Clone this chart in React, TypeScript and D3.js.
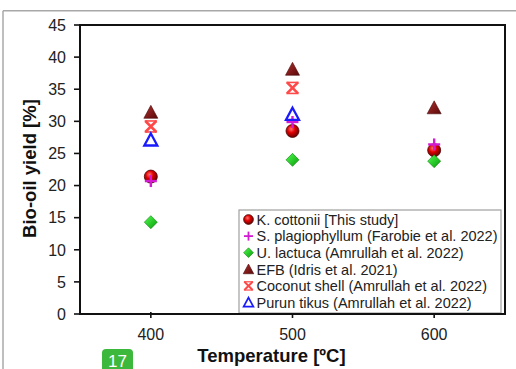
import React from "react";
import * as d3 from "d3";

const temperatures = [400, 500, 600];
const xTicks = [400, 500, 600];
const yTicks = [0, 5, 10, 15, 20, 25, 30, 35, 40, 45];

const seriesNames = [
  "K. cottonii [This study]",
  "S. plagiophyllum (Farobie et al. 2022)",
  "U. lactuca (Amrullah et al. 2022)",
  "EFB (Idris et al. 2021)",
  "Coconut shell (Amrullah et al. 2022)",
  "Purun tikus (Amrullah et al. 2022)",
];
const kCottonii = [21.4, 28.5, 25.5];
const sPlagiophyllum = [20.7, 29.9, 26.4];
const uLactuca = [14.3, 24.0, 23.8];
const efb = [31.4, 38.1, 32.1];
const coconutShell = [29.2, 35.2, null];
const purunTikus = [27.1, 31.1, null];

const seriesValues = [kCottonii, sPlagiophyllum, uLactuca, efb, coconutShell, purunTikus];
const seriesMarkers = ["sphere", "plus", "diamond", "triangle", "xbar", "opentri"];

const W = 516;
const H = 369;
const plot = { left: 80, right: 505, top: 25, bottom: 314 };

const x = d3.scaleLinear().domain([350, 650]).range([plot.left, plot.right]);
const y = d3.scaleLinear().domain([0, 45]).range([plot.bottom, plot.top]);

const FONT = "'Liberation Sans', Arial, Helvetica, sans-serif";

function Marker({ kind, cx, cy, s = 1 }: { kind: string; cx: number; cy: number; s?: number }) {
  switch (kind) {
    case "sphere":
      return (
        <circle cx={cx} cy={cy} r={6.5 * s} fill="url(#gSphere)" stroke="#4a0000" strokeWidth={0.8} />
      );
    case "plus": {
      const a = 6 * s;
      return (
        <g stroke="#d21bd2" strokeWidth={2.4 * s}>
          <line x1={cx - a} y1={cy} x2={cx + a} y2={cy} />
          <line x1={cx} y1={cy - a} x2={cx} y2={cy + a} />
        </g>
      );
    }
    case "diamond": {
      const a = 6.5 * s;
      return (
        <path
          d={`M${cx},${cy - a}L${cx + a},${cy}L${cx},${cy + a}L${cx - a},${cy}Z`}
          fill="url(#gDiamond)"
          stroke="#0a7a0a"
          strokeWidth={0.6}
        />
      );
    }
    case "triangle": {
      const a = 7 * s;
      return (
        <path
          d={`M${cx},${cy - a}L${cx + a},${cy + a * 0.85}L${cx - a},${cy + a * 0.85}Z`}
          fill="url(#gTri)"
          stroke="#4a0a0a"
          strokeWidth={0.6}
        />
      );
    }
    case "xbar": {
      const a = 5.5 * s;
      const b = a * 0.75;
      return (
        <g stroke="#ff4848" strokeWidth={2.6 * s}>
          <line x1={cx - a} y1={cy - a} x2={cx + a} y2={cy + a} />
          <line x1={cx - a} y1={cy + a} x2={cx + a} y2={cy - a} />
          <line x1={cx - b - 2 * s} y1={cy - a} x2={cx + b + 2 * s} y2={cy - a} strokeWidth={1.6 * s} />
          <line x1={cx - b - 2 * s} y1={cy + a} x2={cx + b + 2 * s} y2={cy + a} strokeWidth={1.6 * s} />
        </g>
      );
    }
    case "opentri": {
      const a = 6.5 * s;
      return (
        <path
          d={`M${cx},${cy - a}L${cx + a},${cy + a * 0.85}L${cx - a},${cy + a * 0.85}Z`}
          fill="none"
          stroke="#1a1aff"
          strokeWidth={2.3 * s}
          strokeLinejoin="miter"
        />
      );
    }
    default:
      return null;
  }
}

export default function App() {
  const legendX = 239;
  const legendTop = 210;
  const rowH = 16.6;
  const firstRow = 219.5;

  return (
    <svg
      width={W}
      height={H}
      style={{ position: "absolute", left: 0, top: 0, display: "block", background: "#fff" }}
      fontFamily={FONT}
    >
      <defs>
        <radialGradient id="gSphere" cx="40%" cy="35%" r="65%">
          <stop offset="0%" stopColor="#ff7070" />
          <stop offset="45%" stopColor="#e00000" />
          <stop offset="100%" stopColor="#6a0000" />
        </radialGradient>
        <linearGradient id="gDiamond" x1="0" y1="0" x2="1" y2="1">
          <stop offset="0%" stopColor="#50ff50" />
          <stop offset="100%" stopColor="#089a08" />
        </linearGradient>
        <linearGradient id="gTri" x1="0" y1="0" x2="1" y2="1">
          <stop offset="0%" stopColor="#b03030" />
          <stop offset="100%" stopColor="#5a0808" />
        </linearGradient>
      </defs>

      {/* outer gray frame */}
      <line x1={3} y1={10.7} x2={W} y2={10.7} stroke="#a8a8a8" strokeWidth={1.5} />
      <line x1={3} y1={10.7} x2={3} y2={H} stroke="#a8a8a8" strokeWidth={1.5} />

      {/* plot frame */}
      <rect
        x={plot.left}
        y={plot.top}
        width={plot.right - plot.left}
        height={plot.bottom - plot.top}
        fill="none"
        stroke="#111"
        strokeWidth={2}
      />

      {/* y ticks */}
      {yTicks.map((t) => (
        <g key={"y" + t}>
          <line x1={plot.left - 6} x2={plot.left} y1={y(t)} y2={y(t)} stroke="#111" strokeWidth={1.6} />
          <text x={66} y={y(t)} dy="0.36em" textAnchor="end" fontSize={16} fill="#222">
            {t}
          </text>
        </g>
      ))}

      {/* x ticks */}
      {xTicks.map((t) => (
        <g key={"x" + t}>
          <line x1={x(t)} x2={x(t)} y1={plot.bottom - 2} y2={plot.bottom + 4} stroke="#111" strokeWidth={1.6} />
          <text x={x(t)} y={339.5} textAnchor="middle" fontSize={16} fill="#222">
            {t}
          </text>
        </g>
      ))}

      {/* axis titles */}
      <text
        transform={`translate(36,168.5) rotate(-90)`}
        textAnchor="middle"
        fontSize={18.5}
        fontWeight="bold"
        fill="#111"
      >
        Bio-oil yield [%]
      </text>
      <text x={271.5} y={362} textAnchor="middle" fontSize={18.5} fontWeight="bold" fill="#111">
        Temperature [ºC]
      </text>

      {/* data points */}
      {seriesValues.map((vals, si) =>
        vals.map((v, i) =>
          v == null ? null : (
            <Marker key={`m${si}-${i}`} kind={seriesMarkers[si]} cx={x(temperatures[i])} cy={y(v)} />
          )
        )
      )}

      {/* legend */}
      <rect
        x={legendX}
        y={legendTop}
        width={501 - legendX}
        height={plot.bottom - legendTop - 1}
        fill="#fff"
        stroke="#a0a0a0"
        strokeWidth={1.2}
      />
      {seriesNames.map((n, i) => (
        <g key={"l" + i}>
          <Marker kind={seriesMarkers[i]} cx={248.5} cy={firstRow + i * rowH} s={0.75} />
          <text x={256.5} y={firstRow + i * rowH} dy="0.36em" fontSize={14.5} fill="#222">
            {n}
          </text>
        </g>
      ))}
      {/* redraw bottom axis over legend */}
      <line x1={plot.left} x2={plot.right} y1={plot.bottom} y2={plot.bottom} stroke="#111" strokeWidth={2} />
      <line x1={plot.right} x2={plot.right} y1={plot.top} y2={plot.bottom} stroke="#111" strokeWidth={2} />

      {/* page badge */}
      <rect x={102} y={349} width={31} height={26} rx={4} fill="#3cb83c" />
      <text x={117.5} y={366.5} textAnchor="middle" fontSize={17} fill="#fff">
        17
      </text>
    </svg>
  );
}
